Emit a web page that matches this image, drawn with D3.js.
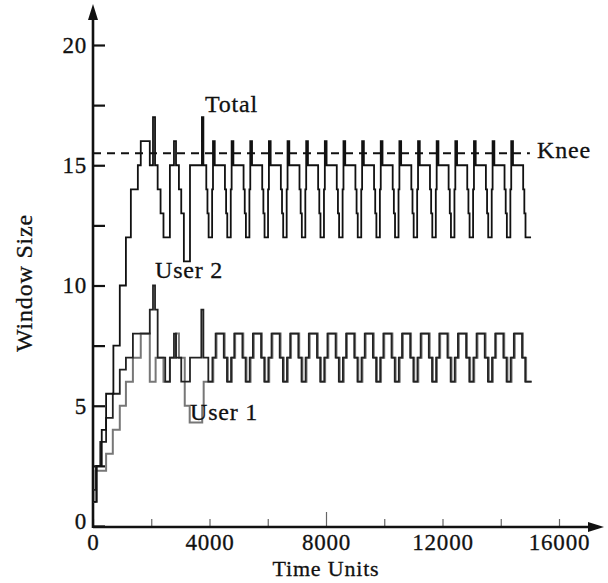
<!DOCTYPE html>
<html>
<head>
<meta charset="utf-8">
<script src="https://cdn.jsdelivr.net/npm/d3@7"></script>
<style>
  body { margin: 0; background: #fff; }
  svg { display: block; }
  .lab { font-family: "Liberation Serif", "DejaVu Serif", serif; fill: #111; stroke: #111; stroke-width: 0.3; letter-spacing: 0.8px; }
</style>
</head>
<body>
<svg id="chart" width="608" height="583"></svg>
<script>
// window size steps: [time, window] (value holds until next time)
const totalSteps = [
  [0,1],[130,2.5],[300,4],[450,5.5],[700,7.5],[920,10],[1130,12],[1300,14],[1540,15],[1640,16],
  [1950,15],[2060,17],[2130,15],[2220,14],[2320,13],[2420,12],[2640,15],[2780,16],[2850,15],
  [2950,14],[3030,13],[3120,11],[3330,15],[3740,17],[3790,15],[3890,14],[3930,13],[3970,12],
  [4090,14],[4120,16],[4180,15],
  [4530,14],[4570,13],[4610,12],[4730,14],[4760,16],[4820,15],
  [5170,14],[5210,13],[5250,12],[5370,14],[5400,16],[5460,15],
  [5810,14],[5850,13],[5890,12],[6010,14],[6040,16],[6100,15],
  [6450,14],[6490,13],[6530,12],[6650,14],[6680,16],[6740,15],
  [7090,14],[7130,13],[7170,12],[7290,14],[7320,16],[7380,15],
  [7730,14],[7770,13],[7810,12],[7930,14],[7960,16],[8020,15],
  [8370,14],[8410,13],[8450,12],[8570,14],[8600,16],[8660,15],
  [9010,14],[9050,13],[9090,12],[9210,14],[9240,16],[9300,15],
  [9650,14],[9690,13],[9730,12],[9850,14],[9880,16],[9940,15],
  [10290,14],[10330,13],[10370,12],[10490,14],[10520,16],[10580,15],
  [10930,14],[10970,13],[11010,12],[11130,14],[11160,16],[11220,15],
  [11570,14],[11610,13],[11650,12],[11770,14],[11800,16],[11860,15],
  [12210,14],[12250,13],[12290,12],[12410,14],[12440,16],[12500,15],
  [12850,14],[12890,13],[12930,12],[13050,14],[13080,16],[13140,15],
  [13490,14],[13530,13],[13570,12],[13690,14],[13720,16],[13780,15],
  [14130,14],[14170,13],[14210,12],[14330,14],[14360,16],[14420,15],
  [14770,14],[14810,13],[14850,12],[15040,12]
];

const user2Steps = [
  [0,1.5],[100,2.5],[250,3.5],[450,4.5],[680,5.5],[920,6.5],[1130,7],[1370,8],
  [1950,9],[2060,10],[2130,9],[2220,7],[2480,6],[2640,7],[2780,8],[2850,7],[3030,6],[3330,7],
  [3720,9],[3790,7],
  [3960,6],[4100,7],[4210,8],[4490,7],
  [4600,6],[4740,7],[4850,8],[5130,7],
  [5240,6],[5380,7],[5490,8],[5770,7],
  [5880,6],[6020,7],[6130,8],[6410,7],
  [6520,6],[6660,7],[6770,8],[7050,7],
  [7160,6],[7300,7],[7410,8],[7690,7],
  [7800,6],[7940,7],[8050,8],[8330,7],
  [8440,6],[8580,7],[8690,8],[8970,7],
  [9080,6],[9220,7],[9330,8],[9610,7],
  [9720,6],[9860,7],[9970,8],[10250,7],
  [10360,6],[10500,7],[10610,8],[10890,7],
  [11000,6],[11140,7],[11250,8],[11530,7],
  [11640,6],[11780,7],[11890,8],[12170,7],
  [12280,6],[12420,7],[12530,8],[12810,7],
  [12920,6],[13060,7],[13170,8],[13450,7],
  [13560,6],[13700,7],[13810,8],[14090,7],
  [14200,6],[14340,7],[14450,8],[14730,7],
  [14840,6],[15060,6]
];

const user1Steps = [
  [0,1],[80,2.3],[450,3],[680,4],[920,5],[1130,6],[1370,7],[1640,8],
  [1950,6],[2150,7],[2420,6],[2640,7],[2850,8],[2950,7],[3150,5],[3320,4.3],[3750,5],[3800,6],
  [4130,7],[4240,8],[4520,7],
  [4630,6],[4770,7],[4880,8],[5160,7],
  [5270,6],[5410,7],[5520,8],[5800,7],
  [5910,6],[6050,7],[6160,8],[6440,7],
  [6550,6],[6690,7],[6800,8],[7080,7],
  [7190,6],[7330,7],[7440,8],[7720,7],
  [7830,6],[7970,7],[8080,8],[8360,7],
  [8470,6],[8610,7],[8720,8],[9000,7],
  [9110,6],[9250,7],[9360,8],[9640,7],
  [9750,6],[9890,7],[10000,8],[10280,7],
  [10390,6],[10530,7],[10640,8],[10920,7],
  [11030,6],[11170,7],[11280,8],[11560,7],
  [11670,6],[11810,7],[11920,8],[12200,7],
  [12310,6],[12450,7],[12560,8],[12840,7],
  [12950,6],[13090,7],[13200,8],[13480,7],
  [13590,6],[13730,7],[13840,8],[14120,7],
  [14230,6],[14370,7],[14480,8],[14760,7],
  [14870,6],[15060,6]
];

const kneeLevel = 15.5;
const kneeEnd = 15000;

const xTicks = [0,2000,4000,6000,8000,10000,12000,14000,16000];
const xTickLabels = [0,4000,8000,12000,16000];
const yTicks = [0,2.5,5,7.5,10,12.5,15,17.5,20];
const yTickLabels = [0,5,10,15,20];

const svg = d3.select('#chart');

const x = d3.scaleLinear().domain([0, 16000]).range([93, 559]);
const y = d3.scaleLinear().domain([0, 20]).range([526, 45]);

// axes
const xAxis = d3.axisBottom(x)
  .tickValues(xTicks)
  .tickSizeInner(-7)
  .tickSizeOuter(0)
  .tickPadding(8)
  .tickFormat(d => xTickLabels.includes(d) ? d : '');

const yAxis = d3.axisLeft(y)
  .tickValues(yTicks)
  .tickSizeInner(-12)
  .tickSizeOuter(0)
  .tickPadding(6)
  .tickFormat(d => yTickLabels.includes(d) ? d : '');

const gx = svg.append('g').attr('transform', `translate(0,${y(0)})`).call(xAxis);
const gy = svg.append('g').attr('transform', `translate(${x(0)},0)`).call(yAxis);

gx.select('.domain').remove();
gy.select('.domain').remove();
gx.attr('font-size', null).attr('font-family', null);
gy.attr('font-size', null).attr('font-family', null);
gx.selectAll('.tick line').attr('stroke', '#666').attr('stroke-width', 1.2);
gx.selectAll('.tick').filter(d => d === 8000).select('line').attr('y2', -14);
gy.selectAll('.tick line').attr('stroke', '#111').attr('stroke-width', 2.2);
gx.selectAll('.tick text').attr('class', 'lab').attr('font-size', 23).attr('fill', null);
gy.selectAll('.tick text').attr('class', 'lab').attr('font-size', 23).attr('fill', null);
gy.selectAll('.tick').filter(d => d === 0).select('text').attr('dy', '0.1em');

// axis lines with arrow heads
svg.append('line')
  .attr('x1', x(0)).attr('y1', y(0) + 1)
  .attr('x2', 594).attr('y2', y(0) + 1)
  .attr('stroke', '#111').attr('stroke-width', 2.6);
svg.append('path')
  .attr('d', `M604,${y(0) + 1}L588,${y(0) - 4}L588,${y(0) + 6}Z`)
  .attr('fill', '#111');
svg.append('line')
  .attr('x1', x(0)).attr('y1', y(0) + 2)
  .attr('x2', x(0)).attr('y2', 16)
  .attr('stroke', '#111').attr('stroke-width', 2.6);
svg.append('path')
  .attr('d', `M${x(0)},4L${x(0) - 5},20L${x(0) + 5},20Z`)
  .attr('fill', '#111');

// knee line
svg.append('line')
  .attr('x1', x(0)).attr('x2', x(kneeEnd))
  .attr('y1', y(kneeLevel)).attr('y2', y(kneeLevel))
  .attr('stroke', '#111').attr('stroke-width', 2)
  .attr('stroke-dasharray', '8,6');

const line = d3.line()
  .x(d => x(d[0]))
  .y(d => y(d[1]))
  .curve(d3.curveStepAfter);

svg.append('path').datum(user1Steps)
  .attr('d', line).attr('fill', 'none')
  .attr('stroke', '#777').attr('stroke-width', 2);
svg.append('path').datum(user2Steps)
  .attr('d', line).attr('fill', 'none')
  .attr('stroke', '#222').attr('stroke-width', 1.8);
svg.append('path').datum(totalSteps)
  .attr('d', line).attr('fill', 'none')
  .attr('stroke', '#111').attr('stroke-width', 1.8);

// labels
const lbl = (tx, ty, s, anchor = 'start') => svg.append('text')
  .attr('class', 'lab')
  .attr('x', tx).attr('y', ty).attr('font-size', 24)
  .attr('text-anchor', anchor).text(s);

lbl(205, 112, 'Total');
lbl(537, 158, 'Knee');
lbl(155, 278, 'User 2');
lbl(190, 420, 'User 1');
lbl(x(8000), 576, 'Time Units', 'middle').attr('font-size', 22);

svg.append('text')
  .attr('class', 'lab')
  .attr('transform', 'translate(32,283) rotate(-90)')
  .attr('font-size', 24).attr('text-anchor', 'middle')
  .text('Window Size');
</script>
</body>
</html>
